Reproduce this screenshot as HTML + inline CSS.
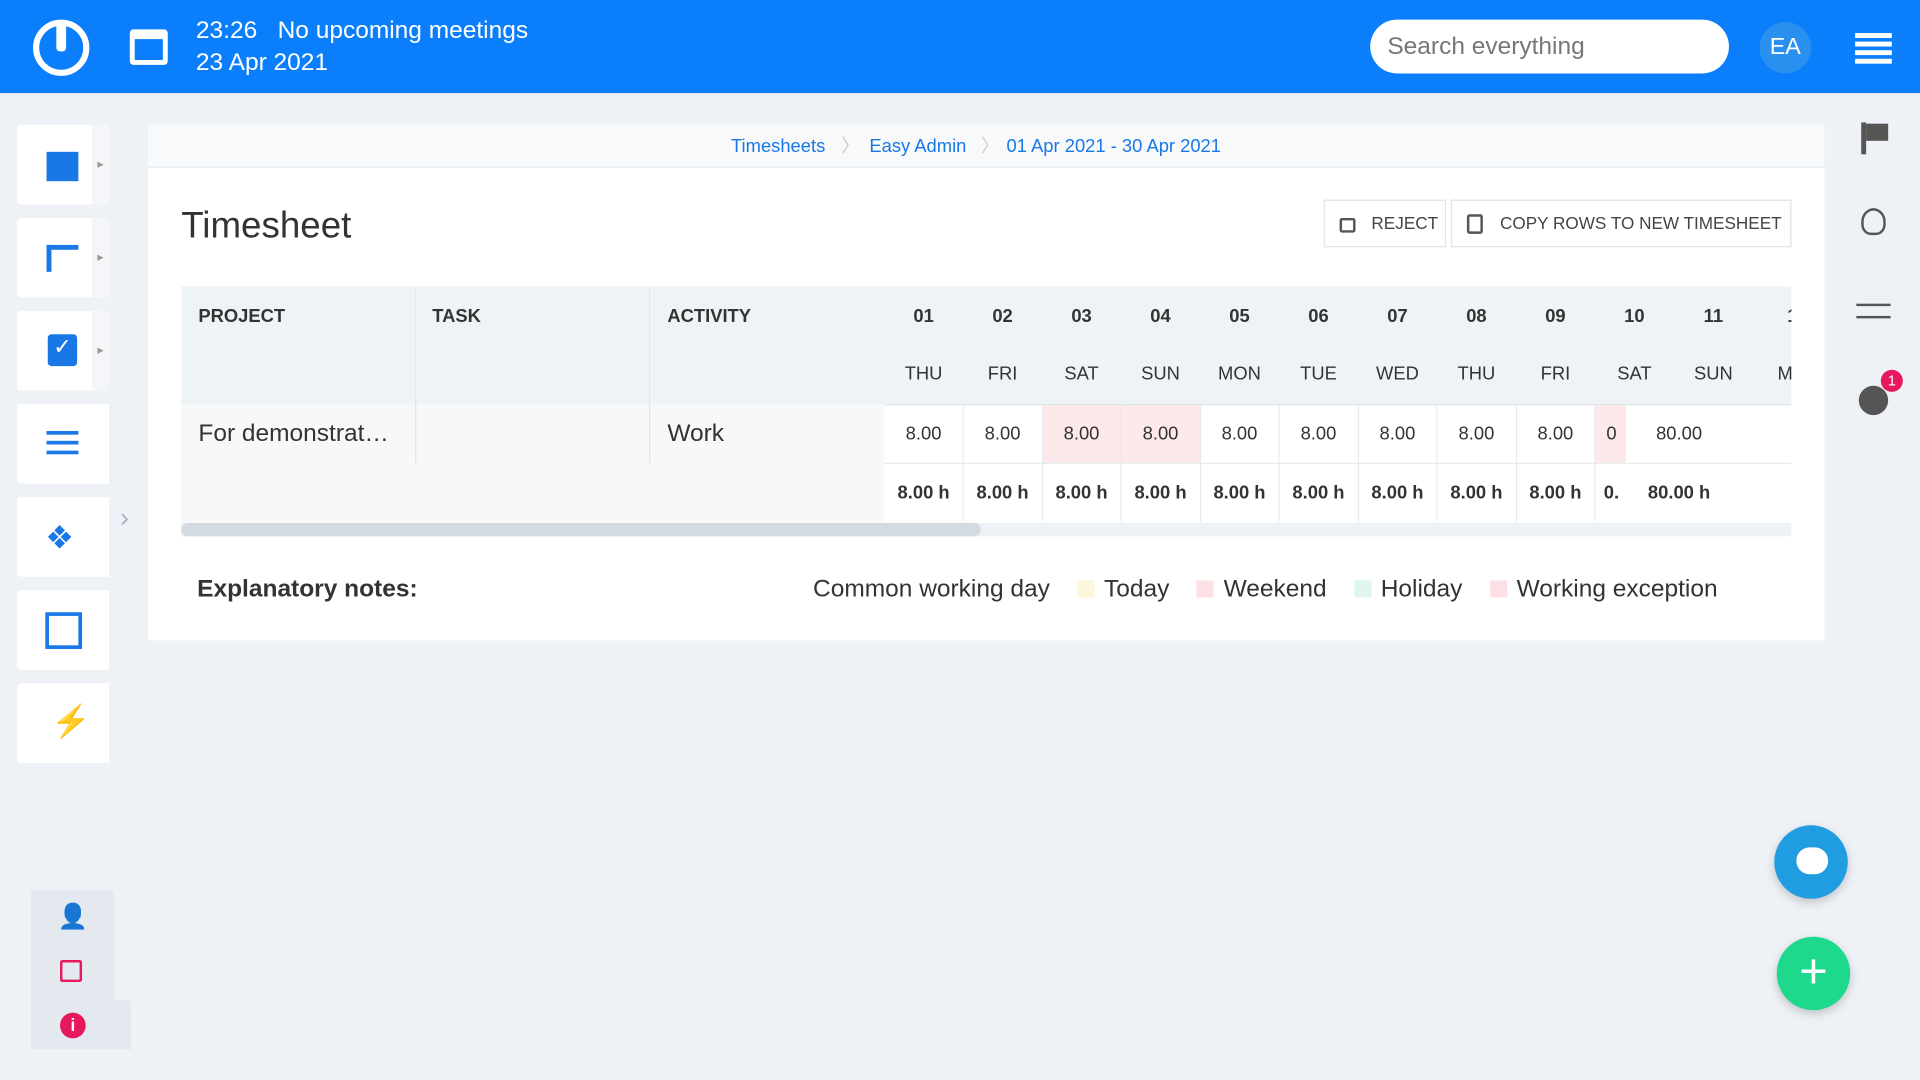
<!DOCTYPE html><html><head><meta charset="utf-8"><style>
*{box-sizing:border-box;margin:0;padding:0}
body{width:1920px;height:1080px;overflow:hidden;background:#eef2f6;font-family:"Liberation Sans",sans-serif}
#w{width:1568px;height:882px;transform:scale(1.22449);transform-origin:0 0;position:relative;background:#eef2f6}
.a{position:absolute}
.hd{left:0;top:0;width:1568px;height:76px;background:#0b7ffb;color:#fff}
.tile{left:14px;width:61px;height:65px;background:#fff;border-radius:3px 0 0 3px}
.tab{left:75px;width:14px;height:65px;background:#f4f6f8;color:#999;font-size:10px;line-height:65px;text-align:center}
.card{left:121px;top:102px;width:1369px;height:421px;background:#fff}
.th{font-size:15px;font-weight:bold;color:#333}
.c{position:absolute;text-align:center;width:64.5px;font-size:15px;color:#333}
.btn{border:1px solid #dde3e8;background:#fff;height:39px;top:163px;font-size:14px;color:#444;line-height:37px}
.sw{display:inline-block;width:14px;height:14px;margin:0 8px 0 0;vertical-align:-1px}
</style></head><body><div id="w">
<div class="a hd">
 <div class="a" style="left:27px;top:16px;width:46px;height:46px;border:5px solid #fff;border-radius:50%"></div>
 <div class="a" style="left:46px;top:18px;width:8px;height:24px;background:#fff;border-radius:3px"></div>
 <div class="a" style="left:106px;top:24px;width:31px;height:29px;border:4px solid #fff;border-top-width:8px;border-radius:3px"></div>
 <div class="a" style="left:160px;top:14px;font-size:20px">23:26 &nbsp; No upcoming meetings</div>
 <div class="a" style="left:160px;top:40px;font-size:20px">23 Apr 2021</div>
 <div class="a" style="left:1119px;top:16px;width:293px;height:44px;background:#fff;border-radius:22px;color:#777;font-size:20px;line-height:44px;padding-left:14px">Search everything</div>
 <div class="a" style="left:1437px;top:18px;width:42px;height:42px;border-radius:50%;background:#2a90f0;font-size:19px;line-height:42px;text-align:center">EA</div>
 <div class="a" style="left:1515px;top:27px;width:30px;height:4px;background:#fff;box-shadow:0 7px 0 #fff,0 14px 0 #fff,0 21px 0 #fff"></div>
</div>
<div class="a tile" style="top:102px"></div><div class="a tab" style="top:102px">▸</div>
<div class="a tile" style="top:178px"></div><div class="a tab" style="top:178px">▸</div>
<div class="a tile" style="top:254px"></div><div class="a tab" style="top:254px">▸</div>
<div class="a tile" style="top:330px;width:75px"></div>
<div class="a tile" style="top:406px;width:75px"></div>
<div class="a tile" style="top:482px;width:75px"></div>
<div class="a tile" style="top:558px;width:75px"></div>
<div class="a" style="left:38px;top:124px;width:26px;height:24px;background:#1a78e6"></div>
<div class="a" style="left:38px;top:200px;width:26px;height:22px;border-left:4px solid #1a78e6;border-top:4px solid #1a78e6"></div>
<div class="a" style="left:39px;top:273px;width:24px;height:26px;background:#1a78e6;border-radius:3px;color:#fff;text-align:center;font-size:18px">✓</div>
<div class="a" style="left:38px;top:352px;width:26px;height:3px;background:#1a78e6;box-shadow:0 8px 0 #1a78e6,0 16px 0 #1a78e6"></div>
<div class="a" style="left:37px;top:424px;color:#1a78e6;font-size:26px">❖</div>
<div class="a" style="left:37px;top:500px;width:30px;height:30px;border:3px solid #1a78e6"></div>
<div class="a" style="left:42px;top:574px;color:#1a78e6;font-size:26px">⚡</div>
<div class="a" style="left:98px;top:410px;color:#a8b4c4;font-size:22px">›</div>
<div class="a" style="left:25px;top:727px;width:68px;height:130px;background:#e4e9f0"></div>
<div class="a" style="left:93px;top:817px;width:14px;height:40px;background:#e4e9f0"></div>
<div class="a" style="left:47px;top:736px;color:#e6195f;font-size:20px">👤</div>
<div class="a" style="left:49px;top:784px;width:18px;height:18px;border:2px solid #e6195f;border-radius:2px"></div>
<div class="a" style="left:49px;top:827px;width:21px;height:21px;border-radius:50%;background:#e6195f;color:#fff;font-size:14px;text-align:center;line-height:21px;font-weight:bold">i</div>
<div class="a card"></div>
<div class="a" style="left:121px;top:102px;width:1369px;height:35px;background:#f7f9fb;border-bottom:1px solid #e6ebef;font-size:15px;color:#1a78e6;line-height:35px">
 <span class="a" style="left:476px">Timesheets</span><span class="a" style="left:566px;color:#ccc">〉</span>
 <span class="a" style="left:589px">Easy Admin</span><span class="a" style="left:680px;color:#ccc">〉</span>
 <span class="a" style="left:701px">01 Apr 2021 - 30 Apr 2021</span></div>
<div class="a" style="left:148px;top:168px;font-size:30px;color:#333">Timesheet</div>
<div class="a btn" style="left:1081px;width:100px;padding-left:38px">REJECT</div>
<div class="a" style="left:1094px;top:178px;width:13px;height:12px;border:2px solid #555;border-radius:2px"></div>
<div class="a btn" style="left:1185px;width:278px;padding-left:39px">COPY ROWS TO NEW TIMESHEET</div>
<div class="a" style="left:1198px;top:175px;width:13px;height:16px;border:2px solid #555;border-radius:2px"></div>
<div class="a" style="left:148px;top:234px;width:1315px;height:96px;background:#eef3f6"></div>
<div class="a" style="left:148px;top:330px;width:574px;height:96px;background:#f6f8fa"></div>
<div class="a" style="left:339px;top:234px;width:1px;height:144px;background:#e2e7eb"></div>
<div class="a" style="left:530px;top:234px;width:1px;height:144px;background:#e2e7eb"></div>
<div class="a" style="left:722px;top:330px;width:741px;height:1px;background:#dde3e8"></div>
<div class="a" style="left:722px;top:378px;width:741px;height:1px;background:#e6ebef"></div>
<div class="a th" style="left:162px;top:250px">PROJECT</div>
<div class="a th" style="left:353px;top:250px">TASK</div>
<div class="a th" style="left:545px;top:250px">ACTIVITY</div>
<div class="a" style="left:162px;top:343px;font-size:20px;color:#333">For demonstrat…</div>
<div class="a" style="left:545px;top:343px;font-size:20px;color:#333">Work</div>
<div class="a" style="left:851px;top:331px;width:129px;height:47px;background:#fde8ea"></div>
<div class="a" style="left:1302px;top:331px;width:26px;height:47px;background:#fde8ea"></div>
<div id="days"></div>
<div class="a" style="left:1463px;top:230px;width:27px;height:200px;background:#fff"></div>
<div class="a" style="left:148px;top:427px;width:1315px;height:11px;background:#eef2f6"></div>
<div class="a" style="left:148px;top:427px;width:653px;height:11px;background:#d4dae1;border-radius:6px"></div>
<div class="a" style="left:161px;top:470px;font-size:20px;font-weight:bold;color:#333">Explanatory notes:</div>
<div class="a" style="left:664px;top:470px;font-size:20px;color:#333;white-space:nowrap">Common working day &nbsp; &nbsp;<span class="sw" style="background:#fcf6dc"></span>Today &nbsp; &nbsp;<span class="sw" style="background:#fde0e4"></span>Weekend &nbsp; &nbsp;<span class="sw" style="background:#dff7ee"></span>Holiday &nbsp; &nbsp;<span class="sw" style="background:#fde0e6"></span>Working exception</div>
<div class="a" style="left:1520px;top:100px;width:4px;height:26px;background:#555"></div>
<div class="a" style="left:1524px;top:101px;width:18px;height:14px;background:#555"></div>
<div class="a" style="left:1520px;top:170px;width:20px;height:22px;border:2px solid #555;border-radius:50% 50% 40% 40%"></div>
<div class="a" style="left:1516px;top:248px;width:28px;height:2px;background:#555;box-shadow:0 10px 0 #555"></div>
<div class="a" style="left:1518px;top:315px;width:24px;height:24px;border-radius:50%;background:#555"></div>
<div class="a" style="left:1536px;top:302px;width:18px;height:18px;border-radius:50%;background:#e6195f;color:#fff;font-size:12px;text-align:center;line-height:18px">1</div>
<div class="a" style="left:1449px;top:674px;width:60px;height:60px;border-radius:50%;background:#1f9de0;box-shadow:0 3px 8px rgba(0,0,0,.2)"></div>
<div class="a" style="left:1467px;top:692px;width:26px;height:22px;border-radius:11px;background:#fff"></div>
<div class="a" style="left:1451px;top:765px;width:60px;height:60px;border-radius:50%;background:#1ed88c;color:#fff;font-size:40px;text-align:center;line-height:58px;box-shadow:0 3px 8px rgba(0,0,0,.2)">+</div>
</div>
<script>
var d=["THU","FRI","SAT","SUN","MON","TUE","WED","THU","FRI","SAT","SUN","MO"],h="";
for(var i=0;i<12;i++){var x=722+i*64.5;
h+='<div class="c" style="left:'+x+'px;top:250px;font-weight:bold">'+(i<11?("0"+(i+1)).slice(-2):"1")+'</div>';
h+='<div class="c" style="left:'+x+'px;top:297px">'+d[i]+'</div>';
if(i<9){h+='<div class="c" style="left:'+x+'px;top:346px">8.00</div><div class="c" style="left:'+x+'px;top:394px;font-weight:bold">8.00 h</div>';
h+='<div class="a" style="left:'+(x+64)+'px;top:331px;width:1px;height:95px;background:#e6ebef"></div>';}}
h+='<div class="c" style="left:1306px;top:346px;width:20px">0</div><div class="c" style="left:1306px;top:394px;width:20px;font-weight:bold">0.</div>';
h+='<div class="c" style="left:1339px;top:346px">80.00</div><div class="c" style="left:1339px;top:394px;font-weight:bold">80.00 h</div>';
document.getElementById("days").outerHTML=h;
</script>
</body></html>
